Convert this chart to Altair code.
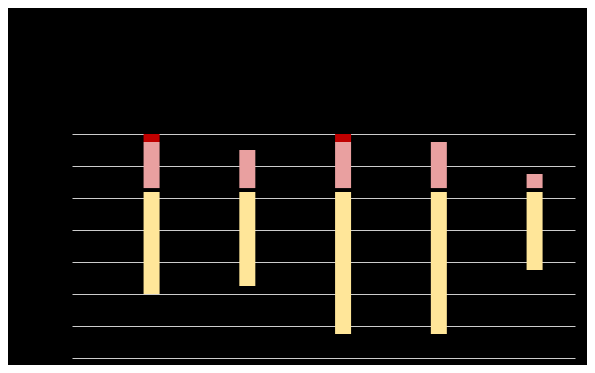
import altair as alt
import pandas as pd

categories = ["Group 1", "Group 2", "Group 3", "Group 4", "Group 5"]
yellow_low = [20.0, 22.5, 7.5, 7.5, 27.5]
yellow_high = [51.9, 51.9, 51.9, 51.9, 51.9]
pink_low = [53.1, 53.1, 53.1, 53.1, 53.1]
pink_high = [67.5, 65.0, 67.5, 67.5, 57.5]
red_high = [70.0, 65.0, 70.0, 67.5, 57.5]

rows = []
for i, c in enumerate(categories):
    pos = i + 1
    rows.append({"cat": c, "pos": pos, "seg": "Low", "lo": yellow_low[i], "hi": yellow_high[i]})
    rows.append({"cat": c, "pos": pos, "seg": "Mid", "lo": pink_low[i], "hi": pink_high[i]})
    if red_high[i] > pink_high[i]:
        rows.append({"cat": c, "pos": pos, "seg": "High", "lo": pink_high[i], "hi": red_high[i]})
df = pd.DataFrame(rows)

chart = alt.Chart(df).mark_bar(width=16).encode(
    x=alt.X("pos:Q", axis=None,
            scale=alt.Scale(domain=[0.169, 5.422], nice=False, zero=False, padding=0)),
    y=alt.Y("lo:Q", scale=alt.Scale(domain=[0, 70], nice=False),
            axis=alt.Axis(labels=False, ticks=False, domain=False, title=None,
                          values=[0, 10, 20, 30, 40, 50, 60, 70],
                          gridColor="#cccccc", gridWidth=1, gridOpacity=1)),
    y2="hi:Q",
    color=alt.Color("seg:N", legend=None,
                    scale=alt.Scale(domain=["Low", "Mid", "High"],
                                    range=["#ffe699", "#e9a0a0", "#c00000"])),
    tooltip=["cat:N"],
).properties(
    width=503, height=224,
    padding={"left": 64, "top": 126, "right": 12, "bottom": 7},
).configure(background="#000000").configure_view(stroke=None)

chart.save("out.html", embed_options={"renderer": "svg", "actions": False})
